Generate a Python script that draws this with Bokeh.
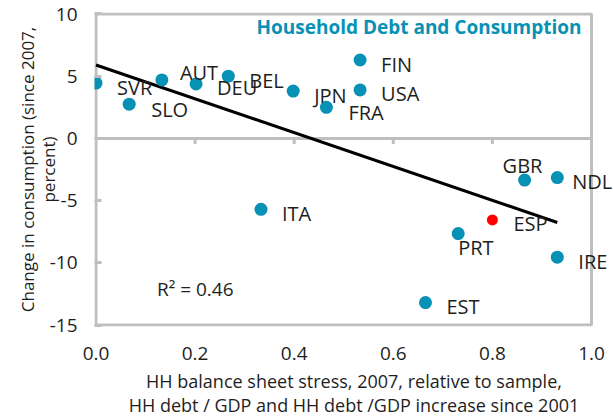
from bokeh.plotting import figure
from bokeh.models import ColumnDataSource, LabelSet, Label, Range1d, FixedTicker
from bokeh.core.properties import value
from bokeh.embed import file_html
from bokeh.resources import INLINE

# ---------------- data ----------------
countries = ["SVR", "SLO", "AUT", "DEU", "BEL", "JPN", "FRA", "FIN", "USA",
             "ITA", "GBR", "NDL", "ESP", "PRT", "IRE", "EST"]
stress = [0.000, 0.067, 0.133, 0.202, 0.267, 0.398, 0.465, 0.533, 0.533,
          0.333, 0.865, 0.931, 0.800, 0.731, 0.931, 0.665]
consumption = [4.45, 2.75, 4.70, 4.38, 5.00, 3.80, 2.50, 6.30, 3.90,
               -5.70, -3.35, -3.15, -6.55, -7.65, -9.55, -13.2]
highlight = "ESP"

trend_intercept = 5.9
trend_slope = -13.6
r_squared = 0.46

x_ticks = [0.0, 0.2, 0.4, 0.6, 0.8, 1.0]
x_tick_labels = ["0.0", "0.2", "0.4", "0.6", "0.8", "1.0"]
y_ticks = [-15, -10, -5, 0, 5, 10]
y_tick_labels = ["-15", "-10", "-5", "0", "5", "10"]

title_text = "Household Debt and Consumption"
x_label = ("HH balance sheet stress, 2007, relative to sample,\n"
           "HH debt / GDP and HH debt /GDP increase since 2001")
y_label = "Change in consumption (since 2007,\npercent)"

# ---------------- styling / layout ----------------
TEAL = "#0791B4"
RED = "#FF0000"
GREY = "#BFBFBF"
TXT = "#1E1E1E"
FONT = "Open Sans"

# small range paddings so the drawn box is not clipped, and room on the
# right for labels that run past the box
PAD_X_LEFT = 0.003
PAD_X_RIGHT = 0.0444
PAD_Y = 0.12

# label placement (screen px: dx right, dy down)
default_off = (21, 4)
special_off = {"AUT": (18, -7), "GBR": (-22, -15), "PRT": (0, 14),
               "SLO": (22, 5), "FRA": (22, 5), "NDL": (15, 4)}

xo, yo, colors, sizes = [], [], [], []
for c in countries:
    dx, dy = special_off.get(c, default_off)
    xo.append(dx)
    yo.append(-dy)
    colors.append(RED if c == highlight else TEAL)
    sizes.append(11 if c == highlight else 13)

src = ColumnDataSource(dict(x=stress, y=consumption, name=countries,
                            xo=xo, yo=yo, color=colors, size=sizes))

p = figure(width=613, height=420, output_backend="svg", toolbar_location=None,
           x_range=Range1d(x_ticks[0] - PAD_X_LEFT, x_ticks[-1] + PAD_X_RIGHT),
           y_range=Range1d(y_ticks[0] - PAD_Y, y_ticks[-1] + PAD_Y),
           min_border_left=94, min_border_right=0, min_border_top=12,
           min_border_bottom=93)
p.background_fill_color = "white"
p.border_fill_color = "white"
p.outline_line_color = None
p.xgrid.visible = False
p.ygrid.visible = False

# plot box
p.quad(left=[x_ticks[0]], right=[x_ticks[-1]], bottom=[y_ticks[0]],
       top=[y_ticks[-1]], fill_color=None, line_color=GREY, line_width=3)
# zero line
p.segment(x0=[x_ticks[0]], x1=[x_ticks[-1]], y0=[0], y1=[0],
          line_color=GREY, line_width=3)
# x ticks on zero line (pointing down)
p.segment(x0=x_ticks[1:-1], x1=x_ticks[1:-1], y0=[0] * 4, y1=[-0.45] * 4,
          line_color=GREY, line_width=3)

# trend line
tx = [0.0, max(stress)]
ty = [trend_intercept + trend_slope * v for v in tx]
p.line(tx, ty, line_color="black", line_width=3)

# points
p.scatter("x", "y", source=src, size="size", fill_color="color",
          line_color=None)

labels = LabelSet(x="x", y="y", text="name", source=src, x_offset="xo",
                  y_offset="yo", text_font=value(FONT),
                  text_font_size=value("20px"),
                  text_color=TXT, text_baseline="middle", text_align="left")
p.add_layout(labels)

p.add_layout(Label(x=0.98, y=8.95, text=title_text, text_font=FONT,
                   text_font_size="19px", text_font_style="bold",
                   text_color=TEAL, text_align="right",
                   text_baseline="middle"))
p.add_layout(Label(x=0.123, y=-12.1, text="R\u00b2 = %.2f" % r_squared,
                   text_font=FONT, text_font_size="19px", text_color=TXT,
                   text_align="left", text_baseline="middle"))

# axes
xa = p.xaxis[0]
xa.ticker = FixedTicker(ticks=x_ticks)
xa.bounds = (x_ticks[0], x_ticks[-1])
xa.major_label_overrides = {t: l for t, l in zip(x_ticks, x_tick_labels)}
xa.axis_line_color = None
xa.major_tick_line_color = None
xa.minor_tick_line_color = None
xa.major_tick_in = 0
xa.major_tick_out = 0
xa.major_label_standoff = 20
xa.major_label_text_font = FONT
xa.major_label_text_font_size = "19px"
xa.major_label_text_color = TXT
xa.axis_label = x_label
xa.axis_label_text_font = FONT
xa.axis_label_text_font_size = "18px"
xa.axis_label_text_font_style = "normal"
xa.axis_label_text_color = TXT
xa.axis_label_text_line_height = 1.04
xa.axis_label_standoff = 6

ya = p.yaxis[0]
ya.ticker = FixedTicker(ticks=y_ticks)
ya.major_label_overrides = {t: l for t, l in zip(y_ticks, y_tick_labels)}
ya.axis_line_color = None
ya.major_tick_line_color = GREY
ya.major_tick_line_width = 3
ya.major_tick_in = 7
ya.major_tick_out = 0
ya.minor_tick_line_color = None
ya.major_label_standoff = 17
ya.major_label_text_font = FONT
ya.major_label_text_font_size = "19px"
ya.major_label_text_color = TXT
ya.axis_label = y_label
ya.axis_label_text_font = FONT
ya.axis_label_text_font_size = "17px"
ya.axis_label_text_font_style = "normal"
ya.axis_label_text_color = TXT
ya.axis_label_text_line_height = 0.9
ya.axis_label_standoff = -13

open("out.html", "w").write(file_html(p, INLINE))
